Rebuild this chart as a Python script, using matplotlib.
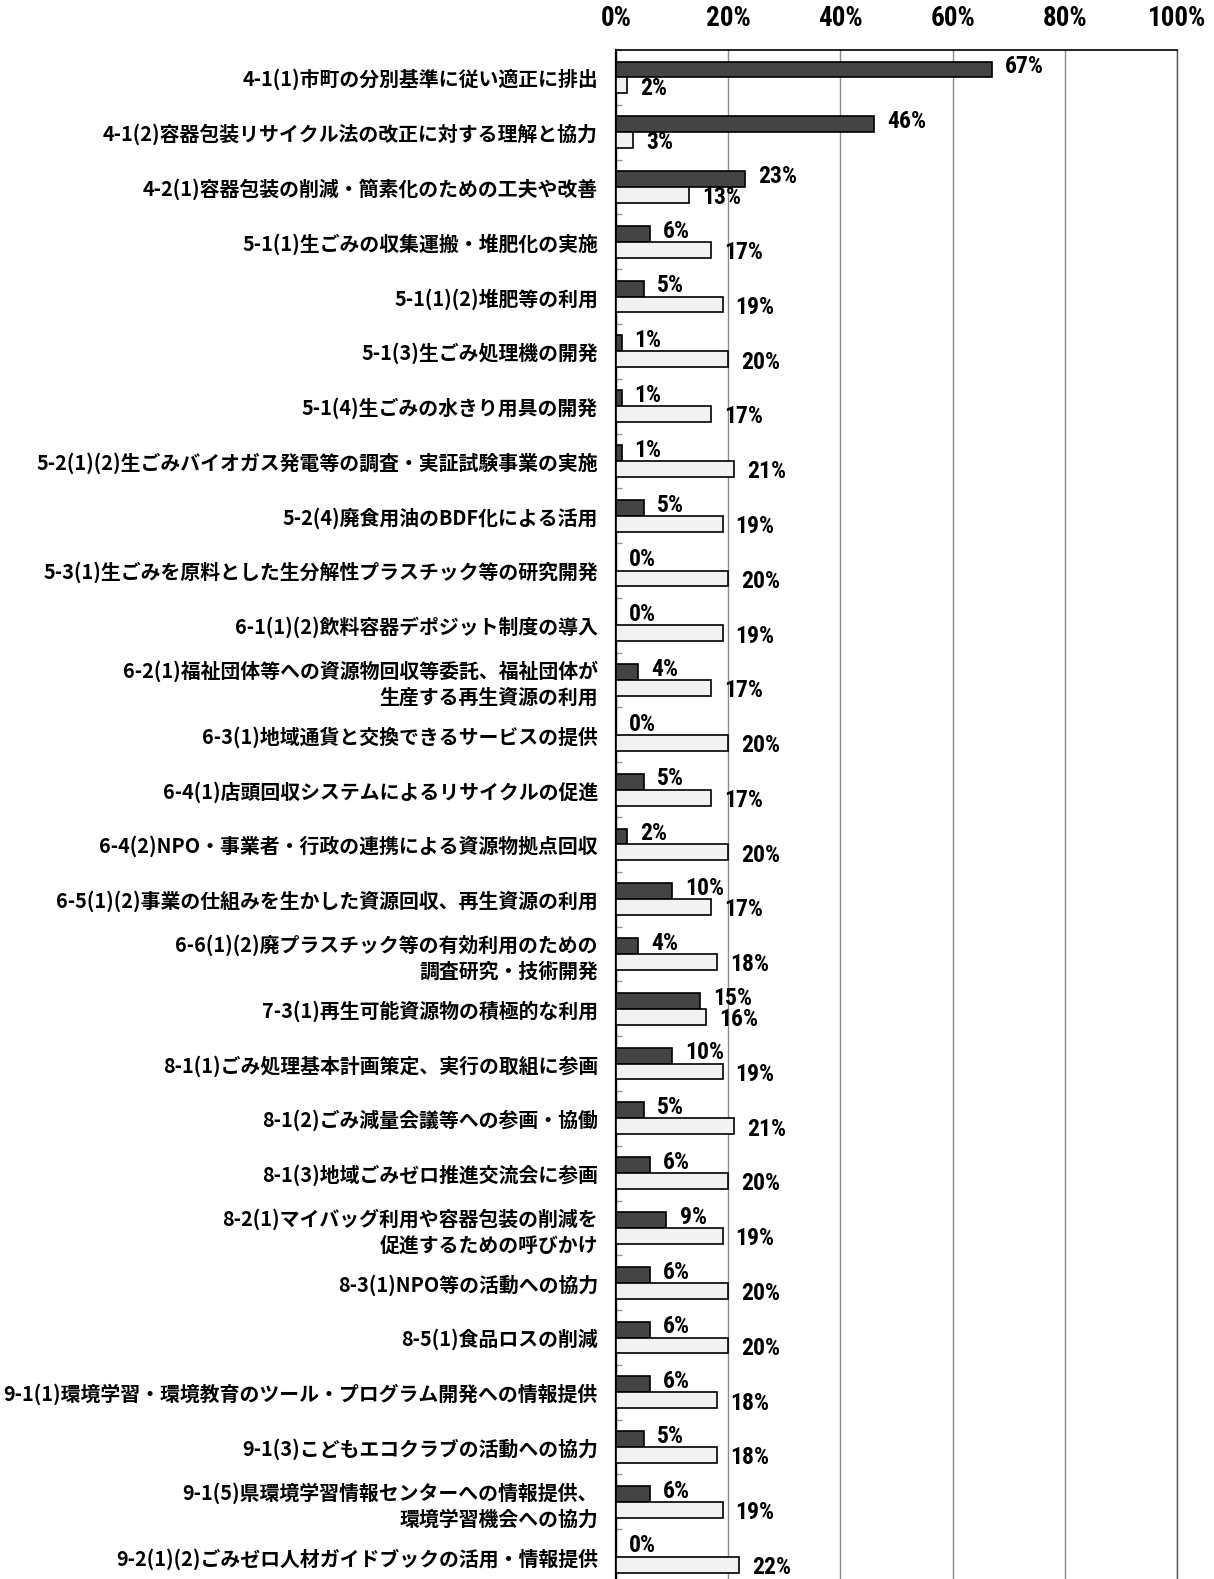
import numpy as np
import matplotlib
matplotlib.use("Agg")
import matplotlib.pyplot as plt
from matplotlib import font_manager

plt.rcParams['font.family'] = ['Noto Sans CJK JP', 'DejaVu Sans']

categories = [
    "4-1(1)市町の分別基準に従い適正に排出",
    "4-1(2)容器包装リサイクル法の改正に対する理解と協力",
    "4-2(1)容器包装の削減・簡素化のための工夫や改善",
    "5-1(1)生ごみの収集運搬・堆肥化の実施",
    "5-1(1)(2)堆肥等の利用",
    "5-1(3)生ごみ処理機の開発",
    "5-1(4)生ごみの水きり用具の開発",
    "5-2(1)(2)生ごみバイオガス発電等の調査・実証試験事業の実施",
    "5-2(4)廃食用油のBDF化による活用",
    "5-3(1)生ごみを原料とした生分解性プラスチック等の研究開発",
    "6-1(1)(2)飲料容器デポジット制度の導入",
    "6-2(1)福祉団体等への資源物回収等委託、福祉団体が\n生産する再生資源の利用",
    "6-3(1)地域通貨と交換できるサービスの提供",
    "6-4(1)店頭回収システムによるリサイクルの促進",
    "6-4(2)NPO・事業者・行政の連携による資源物拠点回収",
    "6-5(1)(2)事業の仕組みを生かした資源回収、再生資源の利用",
    "6-6(1)(2)廃プラスチック等の有効利用のための\n調査研究・技術開発",
    "7-3(1)再生可能資源物の積極的な利用",
    "8-1(1)ごみ処理基本計画策定、実行の取組に参画",
    "8-1(2)ごみ減量会議等への参画・協働",
    "8-1(3)地域ごみゼロ推進交流会に参画",
    "8-2(1)マイバッグ利用や容器包装の削減を\n促進するための呼びかけ",
    "8-3(1)NPO等の活動への協力",
    "8-5(1)食品ロスの削減",
    "9-1(1)環境学習・環境教育のツール・プログラム開発への情報提供",
    "9-1(3)こどもエコクラブの活動への協力",
    "9-1(5)県環境学習情報センターへの情報提供、\n環境学習機会への協力",
    "9-2(1)(2)ごみゼロ人材ガイドブックの活用・情報提供",
]
dark_vals = [67, 46, 23, 6, 5, 1, 1, 1, 5, 0, 0, 4, 0, 5, 2, 10, 4, 15, 10, 5, 6, 9, 6, 6, 6, 5, 6, 0]
light_vals = [2, 3, 13, 17, 19, 20, 17, 21, 19, 20, 19, 17, 20, 17, 20, 17, 18, 16, 19, 21, 20, 19, 20, 20, 18, 18, 19, 22]
xticks = [0, 20, 40, 60, 80, 100]

# narrow face for the percentages, if one is installed
narrow = None
for name in ['Liberation Sans Narrow', 'Arial Narrow', 'Roboto Condensed', 'DejaVu Sans Condensed']:
    try:
        font_manager.findfont(font_manager.FontProperties(family=name), fallback_to_default=False)
        narrow = name
        break
    except ValueError:
        pass
if narrow is None:
    num_prop = dict(family=['DejaVu Sans'], stretch='condensed')
else:
    num_prop = dict(family=[narrow, 'DejaVu Sans'])

fig = plt.figure(figsize=(12.14, 15.79), dpi=100)
ax = fig.add_axes([0.5074, -0.0032, 0.4621, 0.9715])

y = np.arange(len(categories))
h = 0.29
ax.barh(y - h / 2, dark_vals, height=h, color='#444444', edgecolor='black', linewidth=1.2, zorder=3)
ax.barh(y + h / 2, light_vals, height=h, color='#f2f2f2', edgecolor='black', linewidth=1.2, zorder=3)

for yi, v in zip(y, dark_vals):
    ax.annotate(f"{v}%", (v, yi - h / 2), xytext=(9.4, 2), textcoords='offset points',
                ha='left', va='center', fontsize=17, fontweight='bold', **num_prop)
for yi, v in zip(y, light_vals):
    ax.annotate(f"{v}%", (v, yi + h / 2), xytext=(9.4, -2), textcoords='offset points',
                ha='left', va='center', fontsize=17, fontweight='bold', **num_prop)

ax.set_xlim(0, 100)
ax.set_ylim(len(categories) - 0.5, -0.5)

ax.set_xticks(xticks)
ax.set_xticklabels([f"{t}%" for t in xticks], fontsize=19.5, fontweight='bold', **num_prop)
ax.xaxis.tick_top()
ax.tick_params(axis='x', length=0, pad=13)
ax.grid(axis='x', color='#8c8c8c', linewidth=1.0, zorder=0)

ax.set_yticks(y)
ax.set_yticklabels(categories, fontsize=14.3, fontweight='bold', linespacing=1.25, ha='right')
ax.tick_params(axis='y', length=0, pad=13)
ax.set_yticks(np.arange(len(categories) + 1) - 0.5, minor=True)
ax.tick_params(axis='y', which='minor', direction='in', length=4, color='#999999', width=1)

ax.spines['left'].set_linewidth(1.6)
ax.spines['top'].set_linewidth(1.2)
ax.spines['right'].set_color('#555555')
ax.spines['right'].set_linewidth(1.0)
ax.spines['bottom'].set_visible(False)

fig.savefig("out.png", dpi=100)
